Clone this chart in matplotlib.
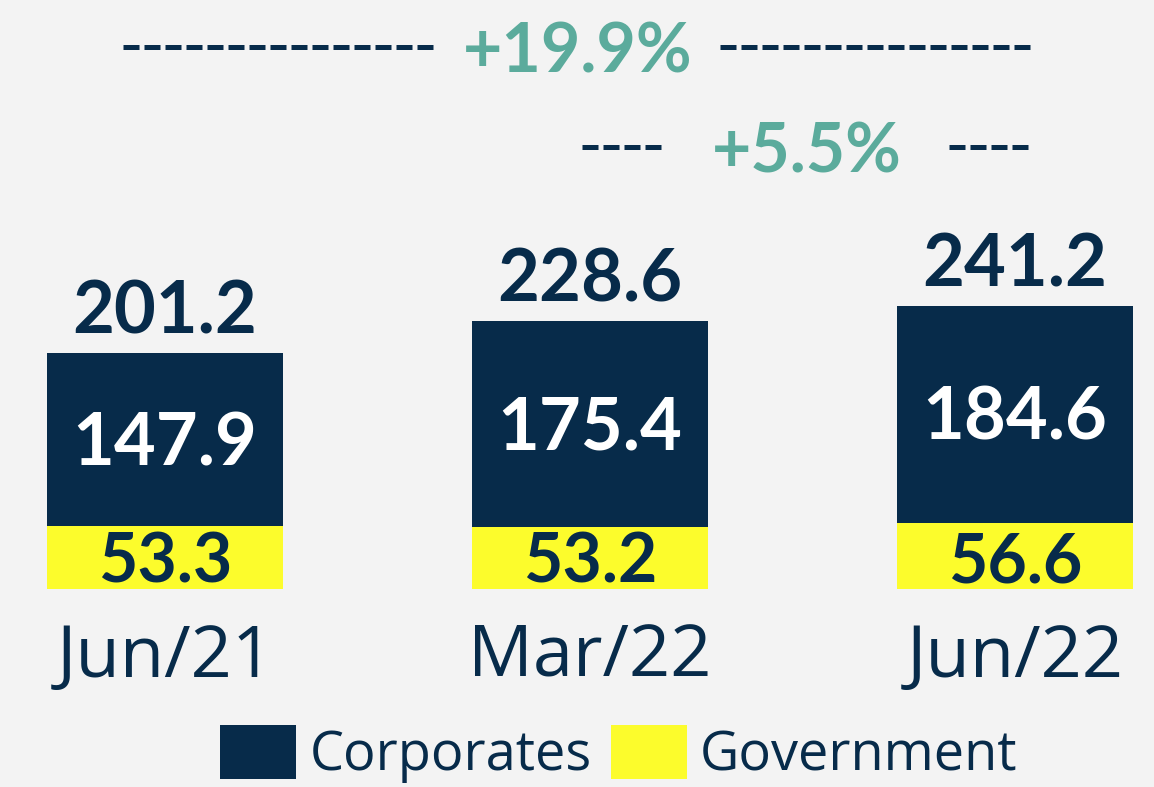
import matplotlib.pyplot as plt

# data
periods = ['Jun/21', 'Mar/22', 'Jun/22']
corporates = [147.9, 175.4, 184.6]
government = [53.3, 53.2, 56.6]
totals = [201.2, 228.6, 241.2]
growth_labels = ['+19.9%', '+5.5%']

navy = '#072b4a'
yellow = '#fcfc2c'
teal = '#5bab9c'
bg = '#f3f3f3'

fig = plt.figure(figsize=(11.54, 7.87), dpi=100, facecolor=bg)
ax = fig.add_axes([0, 198 / 787, 1, 589 / 787])
ax.set_facecolor(bg)

x = list(range(len(periods)))
width = 0.555
ax.bar(x, government, width, color=yellow, label='Government')
ax.bar(x, corporates, width, bottom=government, color=navy, label='Corporates')

ax.set_xlim(-165 / 425, 989 / 425)
ax.set_ylim(0, 589 / 1.1733)

lbl = dict(ha='center', va='baseline', textcoords='offset points', fontweight='bold', family='Lato')
for i in x:
    # government value sits just above the baseline
    ax.annotate(f'{government[i]:.1f}', (i, 0), xytext=(0, 5), fontsize=49, color=navy, **lbl)
    # corporates value centred in its segment (offset by half the digit height)
    ax.annotate(f'{corporates[i]:.1f}', (i, government[i] + corporates[i] / 2), xytext=(0, -18.5),
                fontsize=52, color='white', **lbl)
    ax.annotate(f'{totals[i]:.1f}', (i, totals[i]), xytext=(0, 14), fontsize=52, color=navy, **lbl)

# growth brackets: dashed lines with the percentage in the gap
def growth(x0, x1, y, label):
    mid = (x0 + x1) / 2
    gap = 0.335
    for a, b in [(x0, mid - gap), (mid + gap, x1)]:
        ax.plot([a, b], [y, y], color=navy, lw=3.6, dashes=(3.2, 1.0),
                solid_capstyle='butt', dash_capstyle='butt')
    ax.annotate(label, (mid, y), xytext=(0, -18.5), fontsize=49, color=teal, **lbl)

growth(x[0] - 0.1, x[2] + 0.04, 462, growth_labels[0])
growth(x[1] - 0.02, x[2] + 0.04, 377, growth_labels[1])

ax.set_xticks(x)
ax.set_xticklabels(periods, fontsize=52, family='Open Sans', color=navy)
ax.tick_params(axis='x', length=0, pad=24)
ax.set_yticks([])
for s in ax.spines.values():
    s.set_visible(False)

handles, labels = ax.get_legend_handles_labels()
fig.legend(handles[::-1], labels[::-1], loc='center', bbox_to_anchor=(619 / 1154, 33 / 787),
           ncol=2, frameon=False, prop={'family': 'Open Sans', 'size': 39},
           labelcolor=navy, handlelength=1.4, handleheight=1.15, handletextpad=0.25,
           columnspacing=0.35, borderpad=0)

fig.savefig('out.png', dpi=100, facecolor=bg)
